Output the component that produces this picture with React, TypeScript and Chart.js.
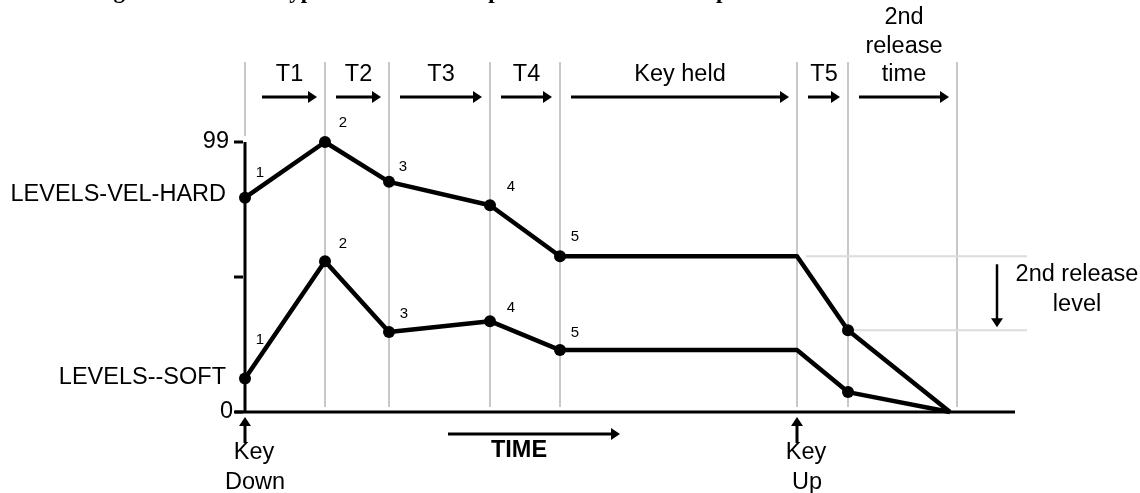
import React, { useEffect, useRef } from "react";
import { Chart, registerables } from "chart.js";

Chart.register(...registerables);

// ---- data ----
const titleText = "Figure 4: Levels of typical timbre envelope with 2nd release drop";
const stageBounds = [0, 80, 144, 245, 315, 552, 603, 712];
const stageLabels = [["T1"], ["T2"], ["T3"], ["T4"], ["Key held"], ["T5"], ["2nd", "release", "time"]];
const envTimes = [0, 80, 144, 245, 315, 552, 603, 705];
const hardLevels = [78.6, 99, 84.4, 75.8, 57.1, 57.1, 30.0, 0];
const softLevels = [12.3, 55.3, 29.3, 33.3, 22.7, 22.7, 7.3, 0];
const pointNumbers = ["1", "2", "3", "4", "5", "", "", ""];
const markedPoints = [true, true, true, true, true, false, true, false];
const seriesNames = ["LEVELS-VEL-HARD", "LEVELS--SOFT"];
const yTickValues = [0, 49.5, 99];
const yTickLabels = ["0", "", "99"];
const keyEvents = [
  { t: 0, label: ["Key", "Down"] },
  { t: 552, label: ["Key", "Up"] },
];
const xMax = 770;
const yMax = 99;

// number label nudges (layout only)
const hardNudge = [[15, -25], [18, -19], [14, -15], [21, -18], [15, -19]];
const softNudge = [[15, -39], [18, -17], [15, -18], [21, -13], [15, -17]];

const SANS = '"Liberation Sans", Arial, sans-serif';
const FS = 23.5;

function hArrow(ctx: CanvasRenderingContext2D, x1: number, x2: number, y: number) {
  ctx.save();
  ctx.strokeStyle = "#000";
  ctx.fillStyle = "#000";
  ctx.lineWidth = 3;
  ctx.beginPath();
  ctx.moveTo(x1, y);
  ctx.lineTo(x2 - 7, y);
  ctx.stroke();
  ctx.beginPath();
  ctx.moveTo(x2, y);
  ctx.lineTo(x2 - 9, y - 6);
  ctx.lineTo(x2 - 9, y + 6);
  ctx.closePath();
  ctx.fill();
  ctx.restore();
}

function vArrow(ctx: CanvasRenderingContext2D, x: number, yFrom: number, yTip: number, w: number) {
  const dir = yTip > yFrom ? 1 : -1;
  ctx.save();
  ctx.strokeStyle = "#000";
  ctx.fillStyle = "#000";
  ctx.lineWidth = w;
  ctx.beginPath();
  ctx.moveTo(x, yFrom);
  ctx.lineTo(x, yTip - dir * 7);
  ctx.stroke();
  ctx.beginPath();
  ctx.moveTo(x, yTip);
  ctx.lineTo(x - 6, yTip - dir * 9);
  ctx.lineTo(x + 6, yTip - dir * 9);
  ctx.closePath();
  ctx.fill();
  ctx.restore();
}

const diagramPlugin = {
  id: "envelopeDiagram",
  beforeDatasetsDraw(chart: any) {
    const ctx: CanvasRenderingContext2D = chart.ctx;
    const xs = chart.scales.x;
    const ys = chart.scales.y;
    const area = chart.chartArea;
    ctx.save();
    // vertical stage lines
    ctx.strokeStyle = "#c8c8c8";
    ctx.lineWidth = 2;
    stageBounds.forEach((t, i) => {
      const x = xs.getPixelForValue(t);
      ctx.beginPath();
      ctx.moveTo(x, 62);
      ctx.lineTo(x, i === 0 ? 136 : 407);
      ctx.stroke();
    });
    // 2nd release level guides
    ctx.strokeStyle = "#dcdcdc";
    const yHeld = ys.getPixelForValue(hardLevels[5]);
    const yRel = ys.getPixelForValue(hardLevels[6]);
    ctx.beginPath();
    ctx.moveTo(xs.getPixelForValue(envTimes[5]) + 9, yHeld);
    ctx.lineTo(1027, yHeld);
    ctx.moveTo(xs.getPixelForValue(envTimes[6]) + 2, yRel);
    ctx.lineTo(1027, yRel);
    ctx.stroke();
    // axes
    ctx.strokeStyle = "#000";
    ctx.lineWidth = 3;
    const x0 = xs.getPixelForValue(0);
    const y0 = ys.getPixelForValue(0);
    ctx.beginPath();
    ctx.moveTo(x0, y0);
    ctx.lineTo(x0, area.top);
    ctx.stroke();
    ctx.beginPath();
    ctx.moveTo(x0 - 10, y0);
    ctx.lineTo(xs.getPixelForValue(xMax), y0);
    ctx.stroke();
    // y ticks
    yTickValues.forEach((v) => {
      const y = ys.getPixelForValue(v);
      ctx.beginPath();
      ctx.moveTo(x0 - 11, y);
      ctx.lineTo(x0 - 2, y);
      ctx.stroke();
    });
    ctx.restore();
  },
  afterDatasetsDraw(chart: any) {
    const ctx: CanvasRenderingContext2D = chart.ctx;
    const xs = chart.scales.x;
    const ys = chart.scales.y;
    ctx.save();
    ctx.fillStyle = "#000";

    // title (clipped at top edge, only descenders show)
    ctx.font = `bold 23px "Liberation Serif", "Times New Roman", serif`;
    ctx.textAlign = "left";
    ctx.textBaseline = "alphabetic";
    ctx.fillText(titleText, 93, -2);

    ctx.font = `${FS}px ${SANS}`;
    ctx.textBaseline = "middle";

    // y tick labels
    const x0 = xs.getPixelForValue(0);
    ctx.textAlign = "right";
    yTickValues.forEach((v, i) => {
      if (!yTickLabels[i]) return;
      const y = ys.getPixelForValue(v);
      ctx.fillText(yTickLabels[i], v === 0 ? x0 - 12 : x0 - 16, y);
    });
    // series names
    ctx.fillText(seriesNames[0], x0 - 19, ys.getPixelForValue(hardLevels[0]) - 3);
    ctx.fillText(seriesNames[1], x0 - 19, ys.getPixelForValue(softLevels[0]) - 1);

    // stage labels and arrows
    ctx.textAlign = "center";
    for (let i = 0; i < stageLabels.length; i++) {
      const xa = xs.getPixelForValue(stageBounds[i]);
      const xb = xs.getPixelForValue(stageBounds[i + 1]);
      const start = xa + (i === 0 ? 17 : 11);
      const end = xb - 8;
      hArrow(ctx, start, end, 97);
      const cx = (start + end) / 2;
      const lines = stageLabels[i];
      lines.forEach((ln, j) => {
        const y = 75 - (lines.length - 1 - j) * 28.5;
        ctx.fillText(ln, cx, y);
      });
    }

    // key events
    keyEvents.forEach((ev) => {
      const x = xs.getPixelForValue(ev.t);
      vArrow(ctx, x, 443, 417, 3);
      ctx.font = `${FS}px ${SANS}`;
      ctx.textAlign = "center";
      ctx.fillText(ev.label[0], x + 9, 453);
      ctx.fillText(ev.label[1], x + 10, 483);
    });

    // TIME arrow
    hArrow(ctx, 448, 620, 434);
    ctx.font = `bold ${FS}px ${SANS}`;
    ctx.textAlign = "center";
    ctx.fillText("TIME", 519, 451);

    // 2nd release level
    const yHeld = ys.getPixelForValue(hardLevels[5]);
    const yRel = ys.getPixelForValue(hardLevels[6]);
    vArrow(ctx, 997, yHeld + 8, yRel - 3, 2.5);
    ctx.font = `${FS}px ${SANS}`;
    ctx.fillText("2nd release", 1077, 275);
    ctx.fillText("level", 1077, 305);

    // point numbers
    ctx.font = `15px ${SANS}`;
    ctx.textAlign = "center";
    pointNumbers.forEach((n, i) => {
      if (!n) return;
      const xp = xs.getPixelForValue(envTimes[i]);
      ctx.fillText(n, xp + hardNudge[i][0], ys.getPixelForValue(hardLevels[i]) + hardNudge[i][1]);
      ctx.fillText(n, xp + softNudge[i][0], ys.getPixelForValue(softLevels[i]) + softNudge[i][1]);
    });
    ctx.restore();
  },
};

export default function App() {
  const ref = useRef<HTMLCanvasElement | null>(null);
  useEffect(() => {
    if (!ref.current) return;
    const radii = markedPoints.map((m) => (m ? 6 : 0));
    const mk = (name: string, levels: number[]) => ({
      label: name,
      data: envTimes.map((t, i) => ({ x: t, y: levels[i] })),
      borderColor: "#000",
      backgroundColor: "#000",
      borderWidth: 4.5,
      borderJoinStyle: "round" as const,
      pointRadius: radii,
      pointBackgroundColor: "#000",
      pointBorderWidth: 0,
      tension: 0,
      clip: false as any,
    });
    const chart = new Chart(ref.current, {
      type: "line",
      data: {
        datasets: [mk(seriesNames[0], hardLevels), mk(seriesNames[1], softLevels)],
      },
      options: {
        animation: false,
        responsive: false,
        devicePixelRatio: 1,
        events: [],
        layout: { padding: { left: 245, right: 125, top: 142, bottom: 81 } },
        scales: {
          x: { type: "linear", min: 0, max: xMax, display: false },
          y: { type: "linear", min: 0, max: yMax, display: false },
        },
        plugins: { legend: { display: false }, tooltip: { enabled: false } },
      },
      plugins: [diagramPlugin],
    });
    return () => chart.destroy();
  }, []);
  return (
    <div style={{ position: "fixed", left: 0, top: 0, width: 1140, height: 493, background: "#fff" }}>
      <canvas ref={ref} width={1140} height={493} />
    </div>
  );
}
